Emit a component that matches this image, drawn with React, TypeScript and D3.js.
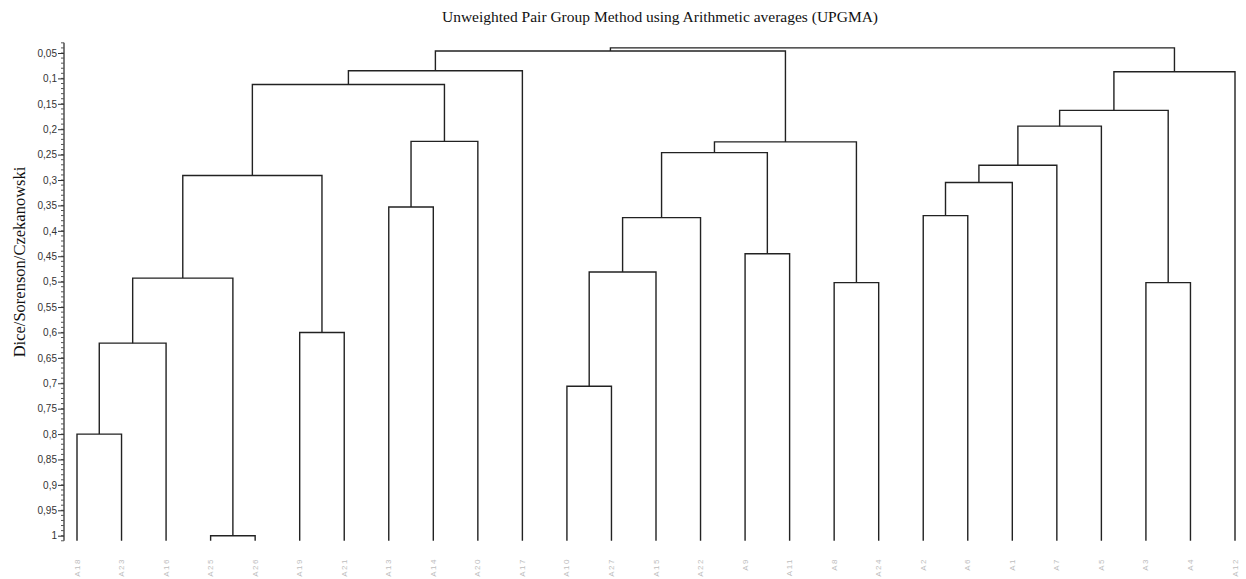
import React, { useEffect, useRef } from "react";
import * as d3 from "d3";

// leaf order along the bottom
const leaves = [
  "A18", "A23", "A16", "A25", "A26", "A19", "A21", "A13", "A14", "A20", "A17",
  "A10", "A27", "A15", "A22", "A9", "A11", "A8", "A24",
  "A2", "A6", "A1", "A7", "A5", "A3", "A4", "A12",
];

// merges: [id, left, right, distance]
const merges: [string, string, string, number][] = [
  ["C1", "A25", "A26", 1.0],
  ["C2", "A18", "A23", 0.8],
  ["C3", "A10", "A27", 0.706],
  ["C4", "C2", "A16", 0.621],
  ["C5", "A19", "A21", 0.6],
  ["C6", "A8", "A24", 0.502],
  ["C7", "A3", "A4", 0.502],
  ["C8", "C4", "C1", 0.493],
  ["C9", "C3", "A15", 0.481],
  ["C10", "A9", "A11", 0.445],
  ["C11", "C9", "A22", 0.374],
  ["C12", "A2", "A6", 0.37],
  ["C13", "A13", "A14", 0.353],
  ["C14", "C12", "A1", 0.305],
  ["C15", "C8", "C5", 0.291],
  ["C16", "C14", "A7", 0.271],
  ["C17", "C11", "C10", 0.246],
  ["C18", "C13", "A20", 0.224],
  ["C19", "C17", "C6", 0.225],
  ["C20", "C16", "A5", 0.194],
  ["C21", "C20", "C7", 0.163],
  ["C22", "C15", "C18", 0.112],
  ["C23", "C21", "A12", 0.087],
  ["C24", "C22", "A17", 0.085],
  ["C25", "C24", "C19", 0.046],
  ["C26", "C25", "C23", 0.04],
];

const majorTicks = [
  0.05, 0.1, 0.15, 0.2, 0.25, 0.3, 0.35, 0.4, 0.45, 0.5,
  0.55, 0.6, 0.65, 0.7, 0.75, 0.8, 0.85, 0.9, 0.95, 1,
];
const axisExtent = [0.03, 1.01];
const leafBase = 1.01;

const title = "Unweighted Pair Group Method using Arithmetic averages (UPGMA)";
const yTitle = "Dice/Sorenson/Czekanowski";

export default function App() {
  const ref = useRef<SVGSVGElement>(null);

  useEffect(() => {
    const svg = d3.select(ref.current);
    svg.selectAll("*").remove();

    const x = d3.scalePoint<string>().domain(leaves).range([77, 1235]);
    const y = d3.scaleLinear().domain([0.05, 1]).range([53, 535.7]);

    svg.append("text")
      .attr("x", 660)
      .attr("y", 22)
      .attr("text-anchor", "middle")
      .style("font-family", "'Liberation Serif', serif")
      .style("font-size", "15.5px")
      .attr("fill", "#111")
      .text(title);

    svg.append("text")
      .attr("transform", `translate(25, 262) rotate(-90)`)
      .attr("text-anchor", "middle")
      .style("font-family", "'Liberation Serif', serif")
      .style("font-size", "16.5px")
      .attr("fill", "#111")
      .text(yTitle);

    // axis
    const axisG = svg.append("g").attr("transform", "translate(64,0)");
    axisG.append("line")
      .attr("y1", y(axisExtent[0]))
      .attr("y2", y(axisExtent[1]))
      .attr("stroke", "#333")
      .attr("stroke-width", 1.3);

    const minorTicks = d3.range(3, 102).map((v) => v / 100);
    axisG.selectAll(".minor").data(minorTicks).join("line")
      .attr("class", "minor")
      .attr("x1", -3)
      .attr("x2", 0)
      .attr("y1", (d) => y(d))
      .attr("y2", (d) => y(d))
      .attr("stroke", "#555")
      .attr("stroke-width", 1);

    axisG.call(
      d3.axisLeft(y)
        .tickValues(majorTicks)
        .tickSize(6)
        .tickSizeOuter(0)
        .tickFormat((d) => String(+d).replace(".", ","))
    );
    axisG.select(".domain").remove();
    axisG.selectAll(".tick line").attr("stroke", "#333");
    axisG.selectAll(".tick text")
      .attr("x", -7)
      .style("font-family", "'Liberation Sans', Arial, sans-serif")
      .style("font-size", "10px")
      .attr("fill", "#333");

    // node positions
    const pos: Record<string, { x: number; y: number }> = {};
    leaves.forEach((l) => {
      pos[l] = { x: x(l) as number, y: y(leafBase) };
    });
    const elbows: [number, number][][] = [];
    merges.forEach(([id, a, b, h]) => {
      const pa = pos[a];
      const pb = pos[b];
      const ym = y(h);
      pos[id] = { x: (pa.x + pb.x) / 2, y: ym };
      elbows.push([[pa.x, pa.y], [pa.x, ym], [pb.x, ym], [pb.x, pb.y]]);
    });

    const line = d3.line();
    svg.append("g").selectAll("path").data(elbows).join("path")
      .attr("d", (d) => line(d))
      .attr("fill", "none")
      .attr("stroke", "#222")
      .attr("stroke-width", 1.4);

    // leaf labels
    svg.append("g").selectAll("text").data(leaves).join("text")
      .attr("transform", (d) => `translate(${x(d)}, 558) rotate(-90)`)
      .attr("text-anchor", "end")
      .attr("dy", "0.32em")
      .style("font-family", "'Liberation Sans', Arial, sans-serif")
      .style("font-size", "8px")
      .style("letter-spacing", "1.5px")
      .attr("fill", "#bdbdbd")
      .text((d) => d);
  }, []);

  return (
    <svg
      ref={ref}
      width={1246}
      height={579}
      style={{ position: "absolute", left: 0, top: 0, background: "#fff" }}
    />
  );
}
